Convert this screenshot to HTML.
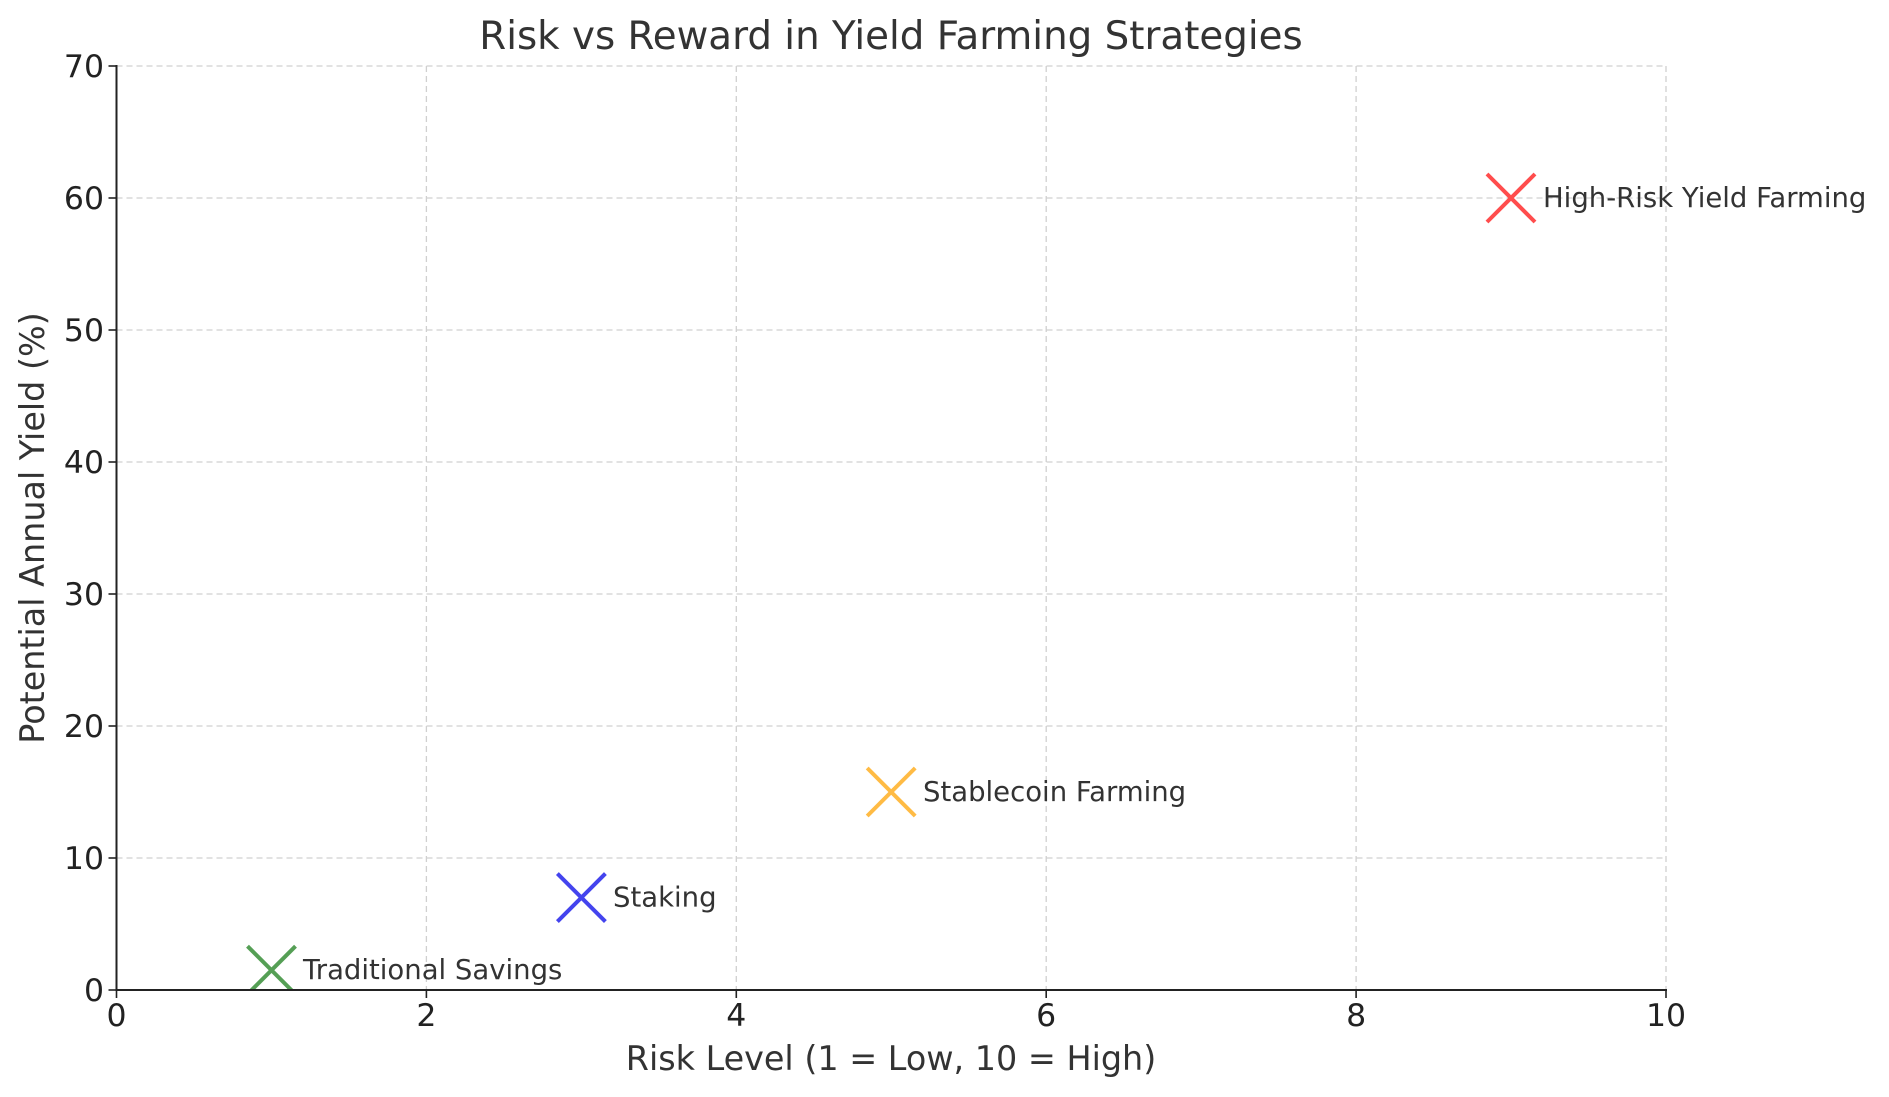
<!DOCTYPE html>
<html><head><meta charset="utf-8"><style>
html,body{margin:0;padding:0;background:#fff;}
svg{display:block;font-family:"DejaVu Sans","Liberation Sans",sans-serif;}
</style></head><body>
<svg width="1889" height="1097" viewBox="0 0 1889 1097" xmlns="http://www.w3.org/2000/svg">
<defs><clipPath id="ax"><rect x="116.5" y="66" width="1549.5" height="924"/></clipPath></defs>
<rect width="1889" height="1097" fill="#fff"/>
<g stroke="#d0d0d0" stroke-width="1.3" stroke-dasharray="6,4">
<line x1="426.4" y1="66" x2="426.4" y2="990"/>
<line x1="736.3" y1="66" x2="736.3" y2="990"/>
<line x1="1046.2" y1="66" x2="1046.2" y2="990"/>
<line x1="1356.1" y1="66" x2="1356.1" y2="990"/>
<line x1="1666" y1="66" x2="1666" y2="990"/>
<line x1="116.5" y1="858" x2="1666" y2="858"/>
<line x1="116.5" y1="726" x2="1666" y2="726"/>
<line x1="116.5" y1="594" x2="1666" y2="594"/>
<line x1="116.5" y1="462" x2="1666" y2="462"/>
<line x1="116.5" y1="330" x2="1666" y2="330"/>
<line x1="116.5" y1="198" x2="1666" y2="198"/>
<line x1="116.5" y1="66" x2="1666" y2="66"/>
</g>
<g stroke-width="4" fill="none" clip-path="url(#ax)">
<path d="M247.5,946.2 l48,48 M247.5,994.2 l48,-48" stroke="#4c9a4c" stroke-opacity="0.95"/>
<path d="M557.4,873.6 l48,48 M557.4,921.6 l48,-48" stroke="#4444ee"/>
<path d="M867.2,768 l48,48 M867.2,816 l48,-48" stroke="#ffbb44"/>
<path d="M1487,174 l48,48 M1487,222 l48,-48" stroke="#ff4d4d"/>
</g>
<g stroke="#222" stroke-width="2">
<line x1="116.5" y1="65" x2="116.5" y2="991"/>
<line x1="115.5" y1="990" x2="1667" y2="990"/>
<g stroke-width="1.6">
<line x1="116.5" y1="990" x2="116.5" y2="998"/><line x1="426.4" y1="990" x2="426.4" y2="998"/><line x1="736.3" y1="990" x2="736.3" y2="998"/><line x1="1046.2" y1="990" x2="1046.2" y2="998"/><line x1="1356.1" y1="990" x2="1356.1" y2="998"/><line x1="1666" y1="990" x2="1666" y2="998"/>
<line x1="108.5" y1="990" x2="116.5" y2="990"/><line x1="108.5" y1="858" x2="116.5" y2="858"/><line x1="108.5" y1="726" x2="116.5" y2="726"/><line x1="108.5" y1="594" x2="116.5" y2="594"/><line x1="108.5" y1="462" x2="116.5" y2="462"/><line x1="108.5" y1="330" x2="116.5" y2="330"/><line x1="108.5" y1="198" x2="116.5" y2="198"/><line x1="108.5" y1="66" x2="116.5" y2="66"/>
</g></g>
<g font-size="31.5" fill="#222" text-anchor="middle">
<text x="116.5" y="1026">0</text><text x="426.4" y="1026">2</text><text x="736.3" y="1026">4</text><text x="1046.2" y="1026">6</text><text x="1356.1" y="1026">8</text><text x="1666" y="1026">10</text>
</g>
<g font-size="31.5" fill="#222" text-anchor="end">
<text x="104" y="1001">0</text><text x="104" y="869">10</text><text x="104" y="737">20</text><text x="104" y="605">30</text><text x="104" y="473">40</text><text x="104" y="341">50</text><text x="104" y="209">60</text><text x="104" y="77">70</text>
</g>
<text x="891" y="49" font-size="38.8" fill="#333" text-anchor="middle">Risk vs Reward in Yield Farming Strategies</text>
<text x="891" y="1070" font-size="33.4" fill="#333" text-anchor="middle">Risk Level (1 = Low, 10 = High)</text>
<text transform="translate(44,528) rotate(-90)" font-size="33.4" fill="#333" text-anchor="middle">Potential Annual Yield (%)</text>
<g font-size="27.5" fill="#333">
<text x="303" y="979">Traditional Savings</text>
<text x="613" y="906.5">Staking</text>
<text x="923" y="801">Stablecoin Farming</text>
<text x="1543" y="207">High-Risk Yield Farming</text>
</g>
</svg>
</body></html>
